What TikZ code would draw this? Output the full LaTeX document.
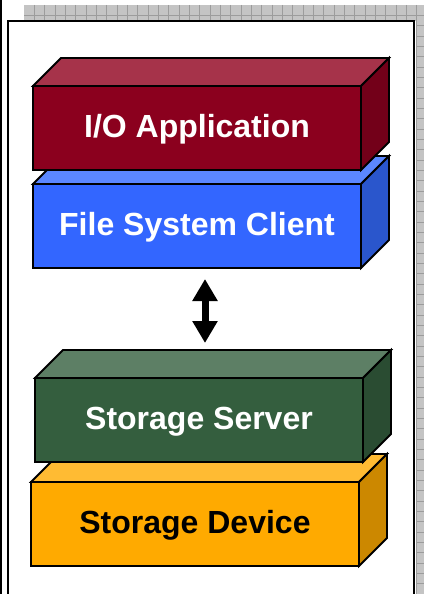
\documentclass[tikz,border=0pt]{standalone}
\usepackage{fontspec}
\setmainfont{Liberation Sans}
\usetikzlibrary{arrows.meta}

% face colours of the four slabs
\definecolor{ioFront}{HTML}{8B001E}
\definecolor{ioTop}{HTML}{A6334A}
\definecolor{ioSide}{HTML}{730019}
\definecolor{fsFront}{HTML}{3366FF}
\definecolor{fsTop}{HTML}{5B87FF}
\definecolor{fsSide}{HTML}{2A56CC}
\definecolor{ssFront}{HTML}{345E3E}
\definecolor{ssTop}{HTML}{5D7F65}
\definecolor{ssSide}{HTML}{2A4C32}
\definecolor{sdFront}{HTML}{FFAA00}
\definecolor{sdTop}{HTML}{FFBB33}
\definecolor{sdSide}{HTML}{CC8800}
\definecolor{panelGray}{HTML}{C4C4C4}
\definecolor{panelLine}{HTML}{9C9C9C}

\tikzset{
  slabface/.style={draw=black, line width=1.8pt, line join=miter,
    minimum width=328pt, minimum height=84pt, inner sep=0pt, outer sep=0pt,
    text height=21pt, text depth=2pt,
    anchor=north west, font=\bfseries\fontsize{32}{36}\selectfont},
  slabedge/.style={draw=black, line width=1.8pt, line join=miter},
  dblarrow/.style={line width=7pt,
    {Triangle[width=24pt,length=22pt]}-{Triangle[width=24pt,length=22pt]}},
}

% \slab{name}{x}{y}{front}{top}{side}{text colour}{label}
\newcommand\slab[8]{%
  \node[slabface, fill=#4, text=#7] (#1) at (#2,#3) {#8};
  \path[slabedge, fill=#5] (#1.north west) -- ++(28,-28) -- ++(328,0)
    -- (#1.north east) -- cycle;
  \path[slabedge, fill=#6] (#1.north east) -- ++(28,-28) -- ++(0,84)
    -- (#1.south east) -- cycle;
}

\begin{document}
\begin{tikzpicture}[x=1pt, y=-1pt]
  \useasboundingbox (0,0) rectangle (424,594);
  \clip (0,0) rectangle (424,594);

  % gridded grey panel behind the frame
  \fill[panelGray] (24,5) rectangle (424,594);
  \foreach \k in {1,...,39}
    \draw[panelLine, line width=0.6pt] ({24+\k*10.33},5) -- ({24+\k*10.33},594);
  \foreach \k in {1,...,57}
    \draw[panelLine, line width=0.6pt] (24,{5+\k*10.33}) -- (424,{5+\k*10.33});

  % white frame
  \fill[white] (8,21) rectangle (416,594);
  \draw[black, line width=2pt] (8,594) -- (8,21) -- (414,21) -- (414,594);
  \draw[black, line width=1.5pt] (1,0) -- (1,594);

  % client stack (lower slab first so the upper one overlaps it)
  \slab{fsc}{33}{184}{fsFront}{fsTop}{fsSide}{white}{File System Client}
  \slab{app}{33}{86}{ioFront}{ioTop}{ioSide}{white}{I/O Application}

  % server stack
  \slab{dev}{31}{482}{sdFront}{sdTop}{sdSide}{black}{Storage Device}
  \slab{srv}{35}{378}{ssFront}{ssTop}{ssSide}{white}{Storage Server}

  % link between client and server
  \draw[dblarrow, shorten <=11pt, shorten >=35pt]
    ([xshift=8pt]fsc.south) -- ([xshift=6pt]srv.north);
\end{tikzpicture}
\end{document}
